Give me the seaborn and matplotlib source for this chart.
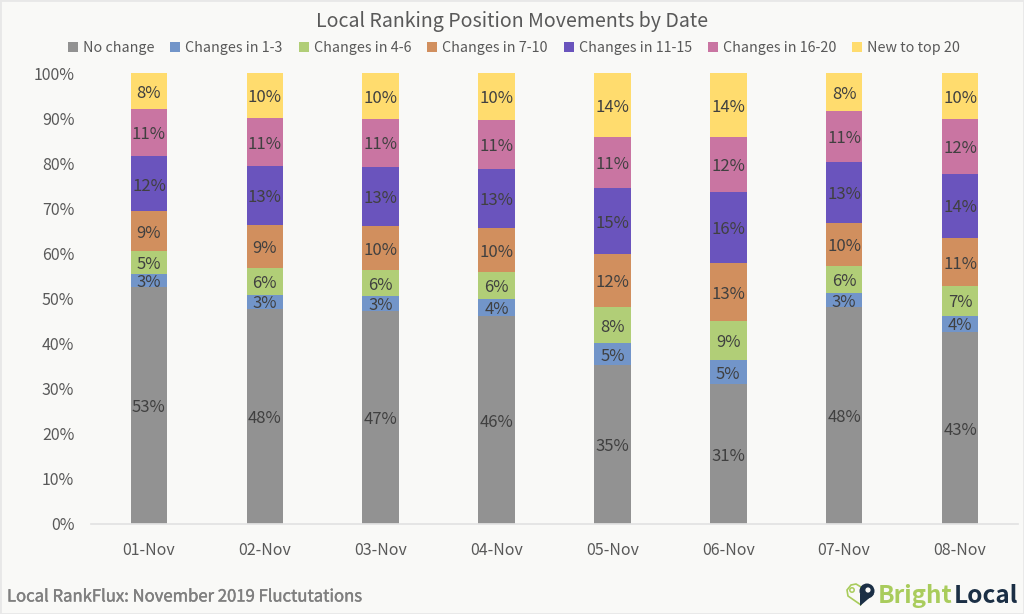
import matplotlib
matplotlib.use('Agg')
import matplotlib.pyplot as plt
import matplotlib.patheffects as pe
from matplotlib.patches import Circle, Polygon, Rectangle
import seaborn as sns

# chart data
dates = ['01-Nov', '02-Nov', '03-Nov', '04-Nov', '05-Nov', '06-Nov', '07-Nov', '08-Nov']
no_change = [52.6, 47.7, 47.2, 46.1, 35.3, 31.0, 48.1, 42.6]
changes_1_3 = [2.9, 3.1, 3.4, 3.8, 4.8, 5.4, 3.1, 3.6]
changes_4_6 = [5.1, 6.0, 5.7, 6.0, 8.0, 8.6, 6.0, 6.6]
changes_7_10 = [8.7, 9.4, 9.8, 9.7, 11.8, 12.9, 9.6, 10.6]
changes_11_15 = [12.2, 13.1, 13.1, 13.1, 14.6, 15.7, 13.4, 14.3]
changes_16_20 = [10.6, 10.8, 10.6, 10.9, 11.3, 12.2, 11.4, 12.0]
new_top_20 = [7.8, 9.9, 10.2, 10.4, 14.2, 14.2, 8.4, 10.3]

series_names = ['No change', 'Changes in 1-3', 'Changes in 4-6', 'Changes in 7-10',
                'Changes in 11-15', 'Changes in 16-20', 'New to top 20']
series_values = [no_change, changes_1_3, changes_4_6, changes_7_10,
                 changes_11_15, changes_16_20, new_top_20]
colors = ['#929292', '#7295c9', '#b1ce77', '#d18f5e', '#6a54bd', '#c975a2', '#ffdc6e']

BG = '#f9f9f7'
TEXT = '#595959'

sns.set_theme(style='white')
plt.rcParams['font.family'] = ['Noto Sans CJK SC', 'DejaVu Sans']

fig = plt.figure(figsize=(10.24, 6.14), dpi=100, facecolor=BG)
W, H = 1024, 614
ax = fig.add_axes([91 / W, 1 - 524 / H, (1018 - 91) / W, (524 - 73) / H], facecolor=BG)

# stacked bars, one layer at a time
bottom = [0.0] * len(dates)
for name, vals, col in zip(series_names, series_values, colors):
    sns.barplot(x=dates, y=vals, bottom=bottom, color=col, saturation=1, width=0.315,
                label=name, ax=ax, errorbar=None, legend=False, linewidth=0)
    texts = ax.bar_label(ax.containers[-1], fmt='%.0f%%', label_type='center',
                         fontsize=12, color='#404040')
    for t in texts:
        t.xyann = (0, -1.5)
    bottom = [b + v for b, v in zip(bottom, vals)]

ax.set_xlim(-0.5, 7.5)
ax.set_ylim(0, 100)
ax.set_yticks(range(0, 101, 10))
ax.set_yticklabels([f'{t}%' for t in range(0, 101, 10)])
ax.tick_params(axis='both', length=0, labelsize=11.5, labelcolor=TEXT)
ax.tick_params(axis='x', pad=13)
ax.tick_params(axis='y', pad=12)
sns.despine(ax=ax, left=True)
ax.spines['bottom'].set_color('#e3e3e3')

fig.text(512 / W, 1 - 22 / H, 'Local Ranking Position Movements by Date',
         ha='center', va='center', fontsize=14.1, color=TEXT)

handles, labels = ax.get_legend_handles_labels()
fig.legend(handles, labels, loc='center', bbox_to_anchor=(514 / W, 1 - 48 / H), ncol=7,
           frameon=False, fontsize=10.3, labelcolor=TEXT, handlelength=0.7, handleheight=0.7,
           handletextpad=0.35, columnspacing=1.12, borderpad=0)

# footer
fig.text(7 / W, 1 - 597 / H, 'Local RankFlux: November 2019 Fluctutations',
         ha='left', va='center', fontsize=12, color='#7f7f7f',
         path_effects=[pe.withStroke(linewidth=0.3, foreground='#7f7f7f')])

# logo drawn in pixel coordinates on an overlay
logo = fig.add_axes([0, 0, 1, 1], facecolor='none')
logo.set_xlim(0, W)
logo.set_ylim(H, 0)
logo.axis('off')
logo.add_patch(Rectangle((0, 0), W, H, fill=False, ec='#e8e8e8', lw=2))
logo.add_patch(Polygon([(847, 590), (851, 585), (856, 584), (861, 587), (861, 605), (848, 596)],
                       closed=True, fill=False, ec='#a9cc5c', lw=1.2))
logo.add_patch(Circle((852, 590), 2.2, fill=False, ec='#a9cc5c', lw=1.1))
logo.add_patch(Circle((867, 591), 7.5, fc='#1b2f45', ec='none'))
logo.add_patch(Polygon([(860, 594), (874, 594), (860, 606)], closed=True, fc='#1b2f45', ec='none'))
logo.add_patch(Circle((868, 590), 2.6, fc=BG, ec='none'))
logo.text(878, 596, 'Bright', ha='left', va='center', fontsize=17.5, fontweight='bold', color='#a9cc5c')
logo.text(954, 596, 'Local', ha='left', va='center', fontsize=17.5, fontweight='bold', color='#1b2f45')

fig.savefig('out.png', dpi=100, facecolor=BG)
